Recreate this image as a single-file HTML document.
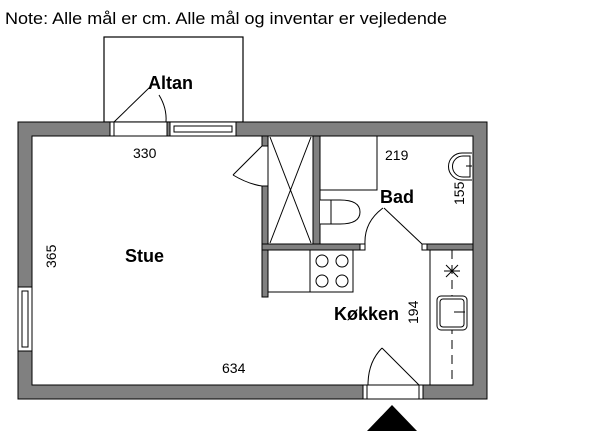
<!DOCTYPE html>
<html><head><meta charset="utf-8"><style>
body{margin:0;background:#fff}
svg{display:block}
text{font-family:"Liberation Sans",sans-serif;fill:#000}
</style></head><body>
<svg width="600" height="442" viewBox="0 0 600 442" xmlns="http://www.w3.org/2000/svg">
<text x="5" y="24" font-size="17" textLength="442" lengthAdjust="spacingAndGlyphs">Note: Alle mål er cm. Alle mål og inventar er vejledende</text>
<rect x="104" y="37" width="139" height="85" fill="#fff" stroke="#000" stroke-width="1.2"/>
<path d="M18 122 H487 V399 H18 Z M32 136 V385 H473 V136 Z" fill="#808080" fill-rule="evenodd" stroke="#000" stroke-width="1"/>
<rect x="110" y="122" width="57" height="14" fill="#fff" stroke="#000"/>
<line x1="114" y1="122" x2="114" y2="136" stroke="#000"/>
<line x1="114" y1="122" x2="150" y2="87" stroke="#000"/>
<path d="M159 95 Q167 108 166 122" fill="none" stroke="#000"/>
<rect x="170" y="122" width="66" height="14" fill="#fff" stroke="#000"/>
<rect x="174" y="126" width="58" height="6" fill="#fff" stroke="#000"/>
<text x="148" y="89" font-size="18" font-weight="bold">Altan</text>
<text x="133" y="158" font-size="14">330</text>
<rect x="18" y="287" width="14" height="64" fill="#fff" stroke="#000"/>
<rect x="22" y="291" width="6" height="56" fill="#fff" stroke="#000"/>
<rect x="262" y="186" width="6" height="111" fill="#808080" stroke="#000"/>
<rect x="262" y="136" width="6" height="10" fill="#808080" stroke="#000"/>
<line x1="262" y1="146" x2="233" y2="175" stroke="#000"/>
<path d="M233 175 Q248 184 262 186" fill="none" stroke="#000"/>
<rect x="268" y="136" width="45" height="108" fill="#fff" stroke="#000"/>
<line x1="270" y1="137" x2="311" y2="243" stroke="#000"/>
<line x1="311" y1="137" x2="270" y2="243" stroke="#000"/>
<rect x="313" y="136" width="7" height="108" fill="#808080" stroke="#000"/>
<rect x="262" y="244" width="103" height="6" fill="#808080" stroke="#000"/>
<rect x="422" y="244" width="51" height="6" fill="#808080" stroke="#000"/>
<rect x="360" y="244" width="5" height="6" fill="#fff" stroke="#000"/>
<rect x="422" y="244" width="5" height="6" fill="#fff" stroke="#000"/>
<rect x="320" y="136" width="57" height="54" fill="#fff" stroke="#000"/>
<path d="M320 200 H340 Q360 200 360 212 Q360 224 340 224 H320" fill="#fff" stroke="#000"/>
<line x1="331" y1="200" x2="331" y2="224" stroke="#000"/>
<path d="M365 244 Q364 222 383 208" fill="none" stroke="#000"/>
<line x1="384" y1="208" x2="422" y2="244" stroke="#000"/>
<path d="M472 153 H462 A13 13 0 0 0 462 180 H472" fill="#fff" stroke="#000"/>
<path d="M470 156 H463 A10 10 0 0 0 463 177 H470 Z" fill="#fff" stroke="#000"/>
<line x1="466" y1="166" x2="472" y2="166" stroke="#000"/>
<text x="385" y="160" font-size="14">219</text>
<text x="380" y="203" font-size="18" font-weight="bold">Bad</text>
<text x="0" y="0" font-size="14" transform="translate(464,205) rotate(-90)">155</text>
<rect x="268" y="250" width="42" height="42" fill="#fff" stroke="#000"/>
<rect x="310" y="250" width="43" height="42" fill="#fff" stroke="#000"/>
<circle cx="322" cy="261" r="6" fill="#fff" stroke="#000"/>
<circle cx="342" cy="261" r="6" fill="#fff" stroke="#000"/>
<circle cx="322" cy="281" r="6" fill="#fff" stroke="#000"/>
<circle cx="342" cy="281" r="6" fill="#fff" stroke="#000"/>
<line x1="430" y1="250" x2="430" y2="385" stroke="#000"/>
<line x1="452" y1="250" x2="452" y2="385" stroke="#000" stroke-dasharray="9,6"/>
<line x1="444" y1="271" x2="460" y2="271" stroke="#000"/>
<line x1="446" y1="265" x2="458" y2="277" stroke="#000"/>
<line x1="458" y1="265" x2="446" y2="277" stroke="#000"/>
<rect x="437" y="296" width="30" height="34" rx="4" fill="#fff" stroke="#000"/>
<rect x="440" y="299" width="24" height="28" rx="3" fill="#fff" stroke="#000"/>
<line x1="454" y1="312" x2="465" y2="312" stroke="#000"/>
<text x="334" y="320" font-size="18" font-weight="bold">Køkken</text>
<text x="0" y="0" font-size="14" transform="translate(418,324) rotate(-90)">194</text>
<rect x="363" y="385" width="60" height="14" fill="#fff" stroke="#000"/>
<line x1="367" y1="385" x2="367" y2="399" stroke="#000"/>
<line x1="419" y1="385" x2="419" y2="399" stroke="#000"/>
<line x1="382" y1="348" x2="419" y2="385" stroke="#000"/>
<path d="M368 385 Q368 362 382 348" fill="none" stroke="#000"/>
<polygon points="367,431 417,431 392,405" fill="#000"/>
<text x="125" y="262" font-size="18" font-weight="bold">Stue</text>
<text x="0" y="0" font-size="14" transform="translate(56,268) rotate(-90)">365</text>
<text x="222" y="373" font-size="14">634</text>
</svg>
</body></html>
